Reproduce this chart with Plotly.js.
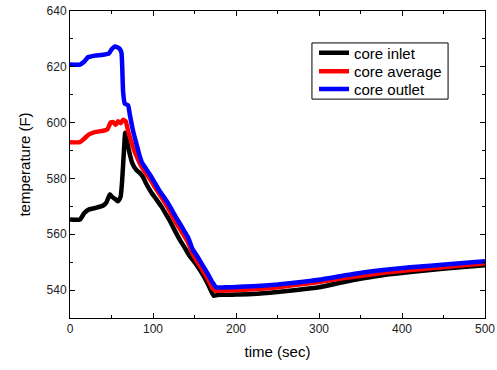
<!DOCTYPE html>
<html>
<head>
<meta charset="utf-8">
<script src="https://cdn.plot.ly/plotly-3.0.1.min.js"></script>
<style>html,body{margin:0;padding:0;background:#fff;}#chart{width:497px;height:370px;}</style>
</head>
<body>
<div id="chart"></div>
<script>
// core inlet
const tInlet = [0, 12, 17, 22, 30, 40, 44, 48, 51, 55, 58, 61, 63, 65, 66.5, 68, 71, 75, 80, 84, 88, 92, 98, 104, 110, 116, 120, 126, 132, 138, 144, 150, 156, 162, 168, 173, 177, 182, 190, 200, 220, 250, 273, 300, 330, 353, 380, 410, 434, 470, 500];
const coreInlet = [565.3, 565.3, 567.5, 568.8, 569.4, 570.3, 571.5, 574.3, 573.3, 572.5, 571.8, 573.5, 580, 590, 596.4, 594.5, 590, 585.5, 583, 582, 580.5, 578, 575, 572.5, 570, 567, 565, 561.5, 558.2, 555.3, 552.3, 550, 547.5, 544.5, 541, 538, 538.2, 538.3, 538.3, 538.4, 538.6, 539.3, 540.0, 541.0, 542.9, 544.2, 545.5, 546.5, 547.2, 548.2, 548.9];
// core average
const tAverage = [0, 12, 17, 23, 30, 40, 45, 49, 52, 55, 58, 61, 64, 67, 70, 74, 78, 82, 86, 90, 96, 102, 108, 114, 120, 125, 130, 136, 142, 148, 154, 160, 166, 172, 175, 180, 190, 200, 220, 250, 273, 300, 330, 353, 380, 410, 434, 470, 500];
const coreAverage = [593.0, 593.0, 594.2, 595.8, 596.6, 597.1, 597.6, 600.0, 600.2, 599.2, 600.5, 599.8, 601.0, 600.5, 597, 593, 589.5, 586.8, 584.3, 582.5, 580, 577, 574.3, 571.5, 568.5, 565.5, 563, 560.2, 557.2, 552.8, 549.8, 547, 544, 540.6, 539.8, 539.8, 539.9, 540.0, 540.3, 541.0, 541.9, 542.9, 544.3, 545.2, 546.3, 547.2, 547.8, 548.8, 549.6];
// core outlet
const tOutlet = [0, 12, 17, 22, 30, 40, 47, 50, 54, 57, 60, 62, 64, 66, 70, 72, 76, 80, 84, 87, 90, 96, 102, 108, 114, 120, 125, 130, 136, 142, 148, 154, 160, 166, 172, 176, 180, 190, 200, 220, 250, 273, 300, 330, 353, 380, 410, 434, 470, 500];
const coreOutlet = [620.8, 620.8, 621.8, 623.5, 624.0, 624.3, 624.8, 626.2, 627.3, 627.0, 626.4, 625.0, 611, 606.8, 606.2, 603, 597, 592.5, 588, 585.5, 584.2, 581.5, 578.5, 575.5, 573, 570.2, 567.5, 565, 562, 559, 554.5, 551.8, 548.8, 545.8, 542.6, 541, 540.9, 541.0, 541.1, 541.4, 542.0, 542.7, 543.7, 545.2, 546.3, 547.3, 548.2, 548.7, 549.6, 550.3];

const seriesNames = ['core inlet', 'core average', 'core outlet'];
const seriesColors = ['#000000', '#ff0000', '#0000ff'];
const xTicks = [0, 100, 200, 300, 400, 500];
const yTicks = [540, 560, 580, 600, 620, 640];

const xs = [tInlet, tAverage, tOutlet];
const ys = [coreInlet, coreAverage, coreOutlet];
const legendIds = ['legend', 'legend2', 'legend3'];
const traces = xs.map((x, i) => ({
  x: x, y: ys[i], name: seriesNames[i], type: 'scatter', mode: 'lines',
  legend: legendIds[i],
  line: {color: seriesColors[i], width: 4.5, shape: 'spline', smoothing: 0.5}
}));

const fam = 'Liberation Sans, Arial, sans-serif';
const legendY = [0.863, 0.803, 0.745];
function legendCfg(y) {
  return {
    x: 0.588, y: y, xanchor: 'left', yanchor: 'middle',
    bgcolor: 'rgba(0,0,0,0)', borderwidth: 0,
    font: {family: fam, size: 15, color: '#000'}
  };
}
const layout = {
  width: 497, height: 370,
  margin: {l: 70, r: 12, t: 11, b: 52},
  paper_bgcolor: '#fff', plot_bgcolor: '#fff',
  font: {family: fam, size: 12, color: '#000'},
  showlegend: true,
  legend: legendCfg(legendY[0]),
  legend2: legendCfg(legendY[1]),
  legend3: legendCfg(legendY[2]),
  shapes: [{
    type: 'rect', xref: 'paper', yref: 'paper',
    x0: 0.583, x1: 0.911, y0: 0.713, y1: 0.896,
    line: {color: '#000', width: 1}, fillcolor: 'rgba(0,0,0,0)', layer: 'above'
  }],
  xaxis: {
    range: [0, 500], tickvals: xTicks, ticktext: xTicks.map(String),
    showgrid: false, zeroline: false,
    showline: true, linecolor: '#000', linewidth: 1, mirror: 'ticks',
    ticks: 'inside', ticklen: 5, tickcolor: '#000',
    minor: {ticks: 'inside', ticklen: 3, dtick: 50, tickcolor: '#000', showgrid: false},
    tickfont: {family: fam, size: 12, color: '#222'},
    title: {text: 'time (sec)', font: {family: fam, size: 15, color: '#000'}, standoff: 11}
  },
  yaxis: {
    range: [530, 640], tickvals: yTicks, ticktext: yTicks.map(String),
    showgrid: false, zeroline: false,
    showline: true, linecolor: '#000', linewidth: 1, mirror: 'ticks',
    ticks: 'inside', ticklen: 5, tickcolor: '#000',
    minor: {ticks: 'inside', ticklen: 3, dtick: 10, tickcolor: '#000', showgrid: false},
    tickfont: {family: fam, size: 12, color: '#222'},
    title: {text: 'temperature (F)', font: {family: fam, size: 15, color: '#000'}, standoff: 12}
  }
};
Plotly.newPlot('chart', traces, layout, {displayModeBar: false, staticPlot: true});
</script>
</body>
</html>
